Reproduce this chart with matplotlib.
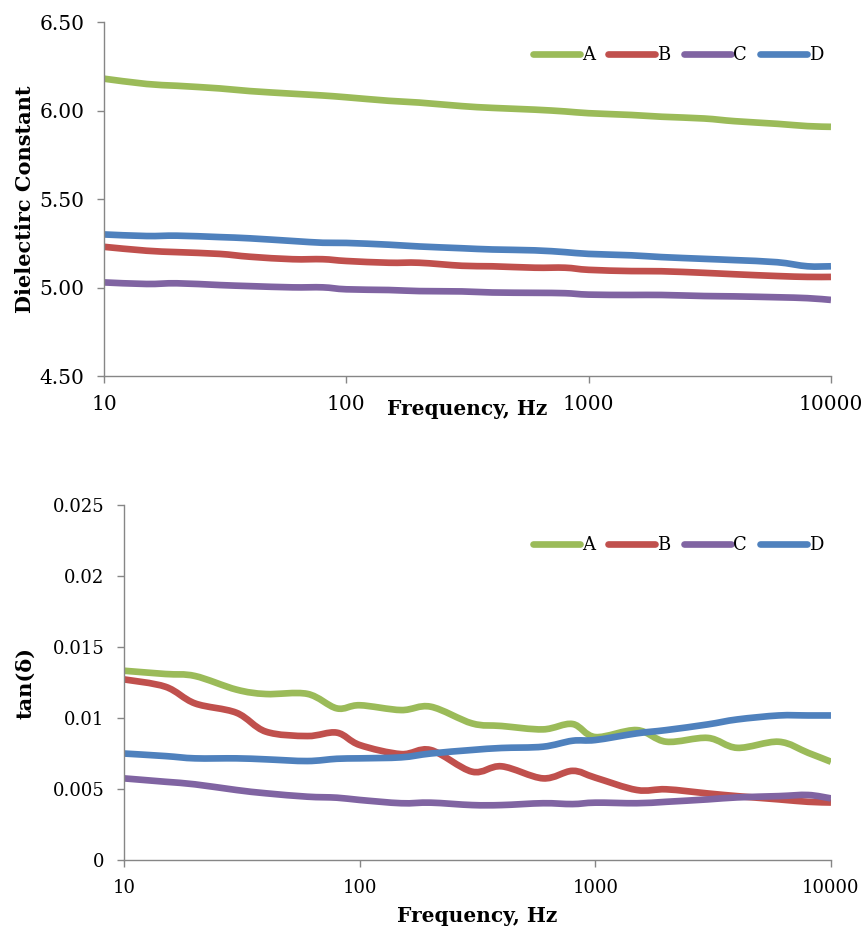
import numpy as np
import matplotlib.pyplot as plt
from matplotlib.path import Path
from matplotlib.patches import PathPatch
from matplotlib.lines import Line2D
from matplotlib.ticker import FixedLocator, FuncFormatter, NullLocator

# --- data ---
freq = [10, 15, 20, 30, 40, 60, 80, 100, 150, 200, 300, 400, 600, 800,
        1000, 1500, 2000, 3000, 4000, 6000, 8000, 10000]

eps_a = [6.18, 6.15, 6.14, 6.125, 6.11, 6.095, 6.085, 6.075, 6.055, 6.045, 6.025,
         6.015, 6.005, 5.995, 5.985, 5.975, 5.965, 5.955, 5.94, 5.925, 5.912, 5.908]
eps_b = [5.23, 5.208, 5.20, 5.19, 5.174, 5.16, 5.16, 5.15, 5.14, 5.14, 5.123,
         5.12, 5.112, 5.112, 5.10, 5.093, 5.092, 5.083, 5.075, 5.065, 5.06, 5.06]
eps_c = [5.029, 5.02, 5.024, 5.014, 5.008, 5.001, 5.001, 4.99, 4.986, 4.98, 4.978,
         4.972, 4.97, 4.968, 4.96, 4.958, 4.958, 4.952, 4.95, 4.945, 4.94, 4.93]
eps_d = [5.30, 5.291, 5.293, 5.285, 5.278, 5.263, 5.253, 5.252, 5.242, 5.232, 5.222,
         5.215, 5.21, 5.20, 5.19, 5.182, 5.172, 5.162, 5.155, 5.143, 5.12, 5.12]

tan_a = [0.01333, 0.0131, 0.01296, 0.0120, 0.01169, 0.0117, 0.01068, 0.0109, 0.01056,
         0.0108, 0.00962, 0.00944, 0.0092, 0.00958, 0.00866, 0.00915, 0.00833, 0.0086,
         0.0079, 0.00833, 0.00755, 0.00692]
tan_b = [0.01272, 0.0122, 0.01103, 0.01037, 0.00904, 0.00873, 0.00897, 0.0081, 0.00746,
         0.00775, 0.00622, 0.0066, 0.00575, 0.00628, 0.0058, 0.00493, 0.00498, 0.00469,
         0.0045, 0.00427, 0.0041, 0.00405]
tan_c = [0.00575, 0.00551, 0.00533, 0.00493, 0.0047, 0.00446, 0.00439, 0.00423, 0.004,
         0.00404, 0.00387, 0.00387, 0.004, 0.00394, 0.00404, 0.004, 0.0041, 0.00427,
         0.00441, 0.0045, 0.00458, 0.00434]
tan_d = [0.0075, 0.00732, 0.00716, 0.00716, 0.00709, 0.00697, 0.00713, 0.00716, 0.00723,
         0.0075, 0.00775, 0.00789, 0.00798, 0.0084, 0.00845, 0.00892, 0.00915, 0.00955,
         0.0099, 0.01018, 0.01018, 0.01018]

labels = ["A", "B", "C", "D"]
colors = ["#9BBB59", "#C0504D", "#8064A2", "#4F81BD"]
xticks = [10, 100, 1000, 10000]

FONT = "DejaVu Serif"
AXIS_GRAY = "#868686"
LW = 4.8

fig = plt.figure(figsize=(8.62, 9.34), dpi=100)
ax1 = fig.add_axes([0.1206, 0.5974, 0.8434, 0.3790])
ax2 = fig.add_axes([0.1439, 0.0792, 0.8201, 0.3801])


def smooth_path(x, y):
    # Excel style "smoothed line": Catmull-Rom segments as cubic beziers,
    # built in log10(x) so the curve is smooth on the log axis
    lx = np.log10(np.asarray(x, float))
    y = np.asarray(y, float)
    n = len(lx)
    verts = [(x[0], y[0])]
    codes = [Path.MOVETO]
    for i in range(n - 1):
        i0, i3 = max(i - 1, 0), min(i + 2, n - 1)
        c1x = lx[i] + (lx[i + 1] - lx[i0]) / 6
        c1y = y[i] + (y[i + 1] - y[i0]) / 6
        c2x = lx[i + 1] - (lx[i3] - lx[i]) / 6
        c2y = y[i + 1] - (y[i3] - y[i]) / 6
        verts += [(10 ** c1x, c1y), (10 ** c2x, c2y), (x[i + 1], y[i + 1])]
        codes += [Path.CURVE4] * 3
    return Path(verts, codes)


def style_axes(ax, ylabel, yticks, yfmt, tick_size):
    ax.set_xscale("log")
    ax.set_xlim(10, 10000)
    ax.xaxis.set_major_locator(FixedLocator(xticks))
    ax.xaxis.set_minor_locator(NullLocator())
    ax.xaxis.set_major_formatter(FuncFormatter(lambda v, p: "%d" % v))
    ax.set_ylim(yticks[0], yticks[-1])
    ax.yaxis.set_major_locator(FixedLocator(yticks))
    ax.yaxis.set_major_formatter(FuncFormatter(yfmt))
    for s in ["top", "right"]:
        ax.spines[s].set_visible(False)
    for s in ["left", "bottom"]:
        ax.spines[s].set_color(AXIS_GRAY)
        ax.spines[s].set_linewidth(1.0)
    ax.tick_params(axis="both", direction="out", length=5, width=1.0,
                   color=AXIS_GRAY, labelsize=tick_size, pad=9)
    for t in ax.get_xticklabels() + ax.get_yticklabels():
        t.set_fontfamily(FONT)
    ax.set_xlabel("Frequency, Hz", fontsize=14.5, fontweight="bold", fontfamily=FONT)
    ax.set_ylabel(ylabel, fontsize=15, fontweight="bold", fontfamily=FONT)


def draw(ax, series, legend_y):
    handles = []
    for ys, lab, c in zip(series, labels, colors):
        ax.add_patch(PathPatch(smooth_path(freq, ys), fill=False, edgecolor=c,
                               lw=LW, capstyle="butt", joinstyle="round"))
        handles.append(Line2D([], [], color=c, lw=LW, solid_capstyle="round", label=lab))
    ax.legend(handles=handles, loc="center right", bbox_to_anchor=(0.989, legend_y),
              ncol=4, frameon=False, handlelength=2.6, handletextpad=0.1,
              columnspacing=0.75, borderaxespad=0, borderpad=0,
              prop={"family": FONT, "size": 13})


draw(ax1, [eps_a, eps_b, eps_c, eps_d], 0.907)
style_axes(ax1, "Dielectirc Constant", [4.5, 5.0, 5.5, 6.0, 6.5],
           lambda v, p: "%.2f" % v, 14.5)
ax1.yaxis.set_label_coords(-0.095, 0.5)
ax1.xaxis.set_label_coords(0.5, -0.065)

draw(ax2, [tan_a, tan_b, tan_c, tan_d], 0.887)
style_axes(ax2, "tan(δ)", [0, 0.005, 0.01, 0.015, 0.02, 0.025],
           lambda v, p: "0" if v == 0 else ("%g" % round(v, 3)), 13)
ax2.yaxis.set_label_coords(-0.125, 0.5)
ax2.xaxis.set_label_coords(0.5, -0.13)

fig.savefig("out.png", dpi=100)
